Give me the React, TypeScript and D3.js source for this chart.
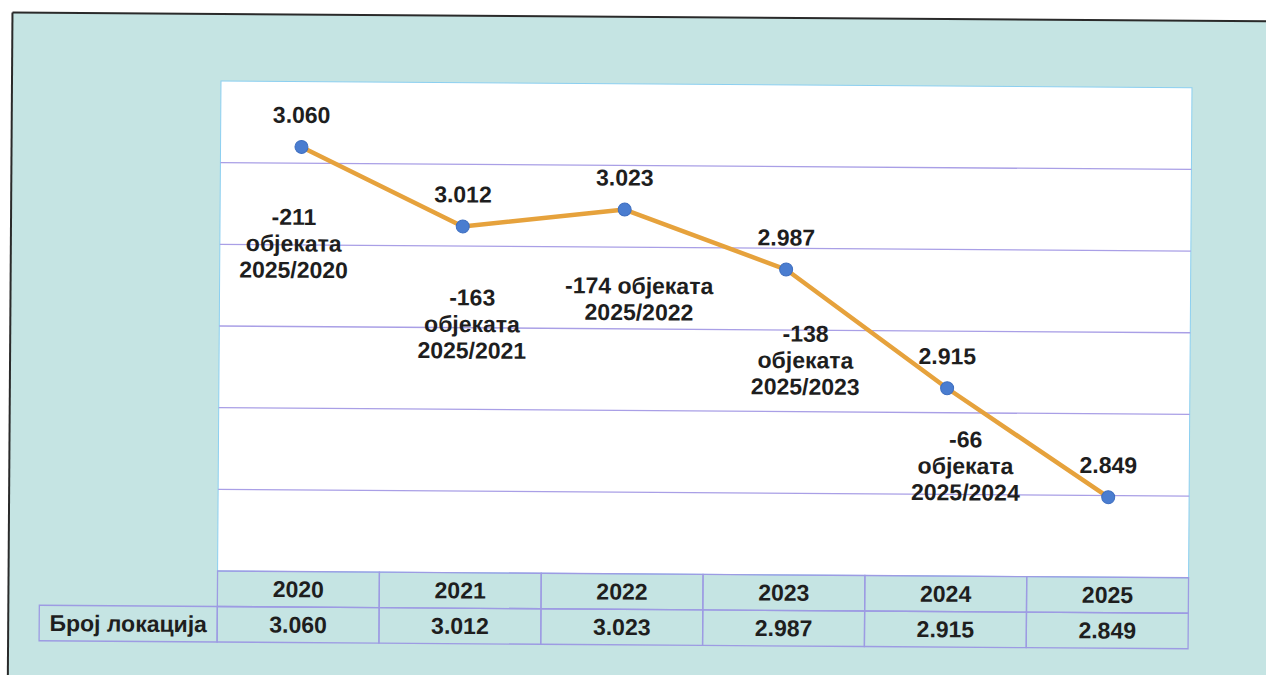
import React from 'react';
import * as d3 from 'd3';

// data
const years = ['2020', '2021', '2022', '2023', '2024', '2025'];
const locations = [3060, 3012, 3023, 2987, 2915, 2849];
const rowLabel = 'Број локација';
const unitWord = 'објеката';

// label placement for the difference notes (offset from each point)
const noteOffsets = [
  { dx: -7, dy: 70, oneLine: false },
  { dx: 10, dy: 71, oneLine: false },
  { dx: 15, dy: 76, oneLine: true },
  { dx: 20, dy: 64, oneLine: false },
  { dx: 19, dy: 51, oneLine: false },
];

const W = 1266, H = 675;
const plot = { left: 221, right: 1192, top: 81, bottom: 571 };
const rowH = 35.5;
const labelLeft = 43;

const teal = '#c5e4e3';
const gridColor = '#a99fe6';
const tableBorder = '#9d9be3';
const textColor = '#1e1e1e';
const font = '"Liberation Sans", Arial, sans-serif';

const fmt = (v: number) => d3.format(',')(v).replace(',', '.');

const App = () => {
  const x = d3.scaleBand().domain(years).range([plot.left, plot.right]);
  const y = d3.scaleLinear().domain([2800, 3100]).range([plot.bottom, plot.top]);
  const grid = y.ticks(6).filter(t => t > 2800 && t < 3100);
  const cx = (i: number) => (x(years[i]) as number) + x.bandwidth() / 2;

  const line = d3.line<number>()
    .x((_, i) => cx(i))
    .y(d => y(d));

  const last = locations[locations.length - 1];
  const lastYear = years[years.length - 1];

  const txt = { fontFamily: font, fontWeight: 700, fontSize: 23, fill: textColor, textAnchor: 'middle' as const };

  return (
    <svg width={W} height={H} style={{ position: 'absolute', left: 0, top: 0, background: '#fff' }}>
      <g transform={`rotate(0.4, ${plot.left}, ${plot.top})`}>
        {/* scanned background and frame */}
        <rect x={12} y={14} width={1300} height={720} fill={teal} />
        <line x1={12} y1={14} x2={1320} y2={14} stroke="#2a2a2a" strokeWidth={2} />
        <line x1={12} y1={14} x2={12} y2={720} stroke="#2a2a2a" strokeWidth={2} />

        {/* plot area */}
        <rect x={plot.left} y={plot.top} width={plot.right - plot.left} height={plot.bottom - plot.top}
          fill="#fff" stroke="#8ccff0" strokeWidth={1} />
        {grid.map(t => (
          <line key={t} x1={plot.left} x2={plot.right} y1={y(t)} y2={y(t)} stroke={gridColor} strokeWidth={1.3} />
        ))}

        {/* data table */}
        {years.map((yr, i) => (
          <g key={yr}>
            <rect x={x(yr)} y={plot.bottom} width={x.bandwidth()} height={rowH}
              fill="none" stroke={tableBorder} strokeWidth={1.3} />
            <rect x={x(yr)} y={plot.bottom + rowH} width={x.bandwidth()} height={rowH}
              fill="none" stroke={tableBorder} strokeWidth={1.3} />
            <text {...txt} x={cx(i)} y={plot.bottom + rowH / 2 + 8}>{yr}</text>
            <text {...txt} x={cx(i)} y={plot.bottom + rowH * 1.5 + 8}>{fmt(locations[i])}</text>
          </g>
        ))}
        <rect x={labelLeft} y={plot.bottom + rowH} width={plot.left - labelLeft} height={rowH}
          fill="none" stroke={tableBorder} strokeWidth={1.3} />
        <text {...txt} x={(labelLeft + plot.left) / 2} y={plot.bottom + rowH * 1.5 + 8}>{rowLabel}</text>

        {/* series */}
        <path d={line(locations) as string} fill="none" stroke="#e6a23c" strokeWidth={4.5} strokeLinejoin="round" />
        {locations.map((v, i) => (
          <circle key={i} cx={cx(i)} cy={y(v)} r={6.5} fill="#4a7dd0" stroke="#3f6fc0" strokeWidth={1} />
        ))}
        {locations.map((v, i) => (
          <text key={'v' + i} {...txt} x={cx(i)} y={y(v) - 24}>{fmt(v)}</text>
        ))}

        {/* difference notes against the last year */}
        {noteOffsets.map((o, i) => {
          const diff = last - locations[i];
          const lines = o.oneLine
            ? [`${diff} ${unitWord}`, `${lastYear}/${years[i]}`]
            : [`${diff}`, unitWord, `${lastYear}/${years[i]}`];
          const px = cx(i) + o.dx;
          const py = y(locations[i]) + o.dy;
          return (
            <text key={'n' + i} {...txt} x={px} y={py + 8}>
              {lines.map((l, k) => (
                <tspan key={k} x={px} dy={k === 0 ? 0 : 26.5}>{l}</tspan>
              ))}
            </text>
          );
        })}
      </g>
    </svg>
  );
};

export default App;
